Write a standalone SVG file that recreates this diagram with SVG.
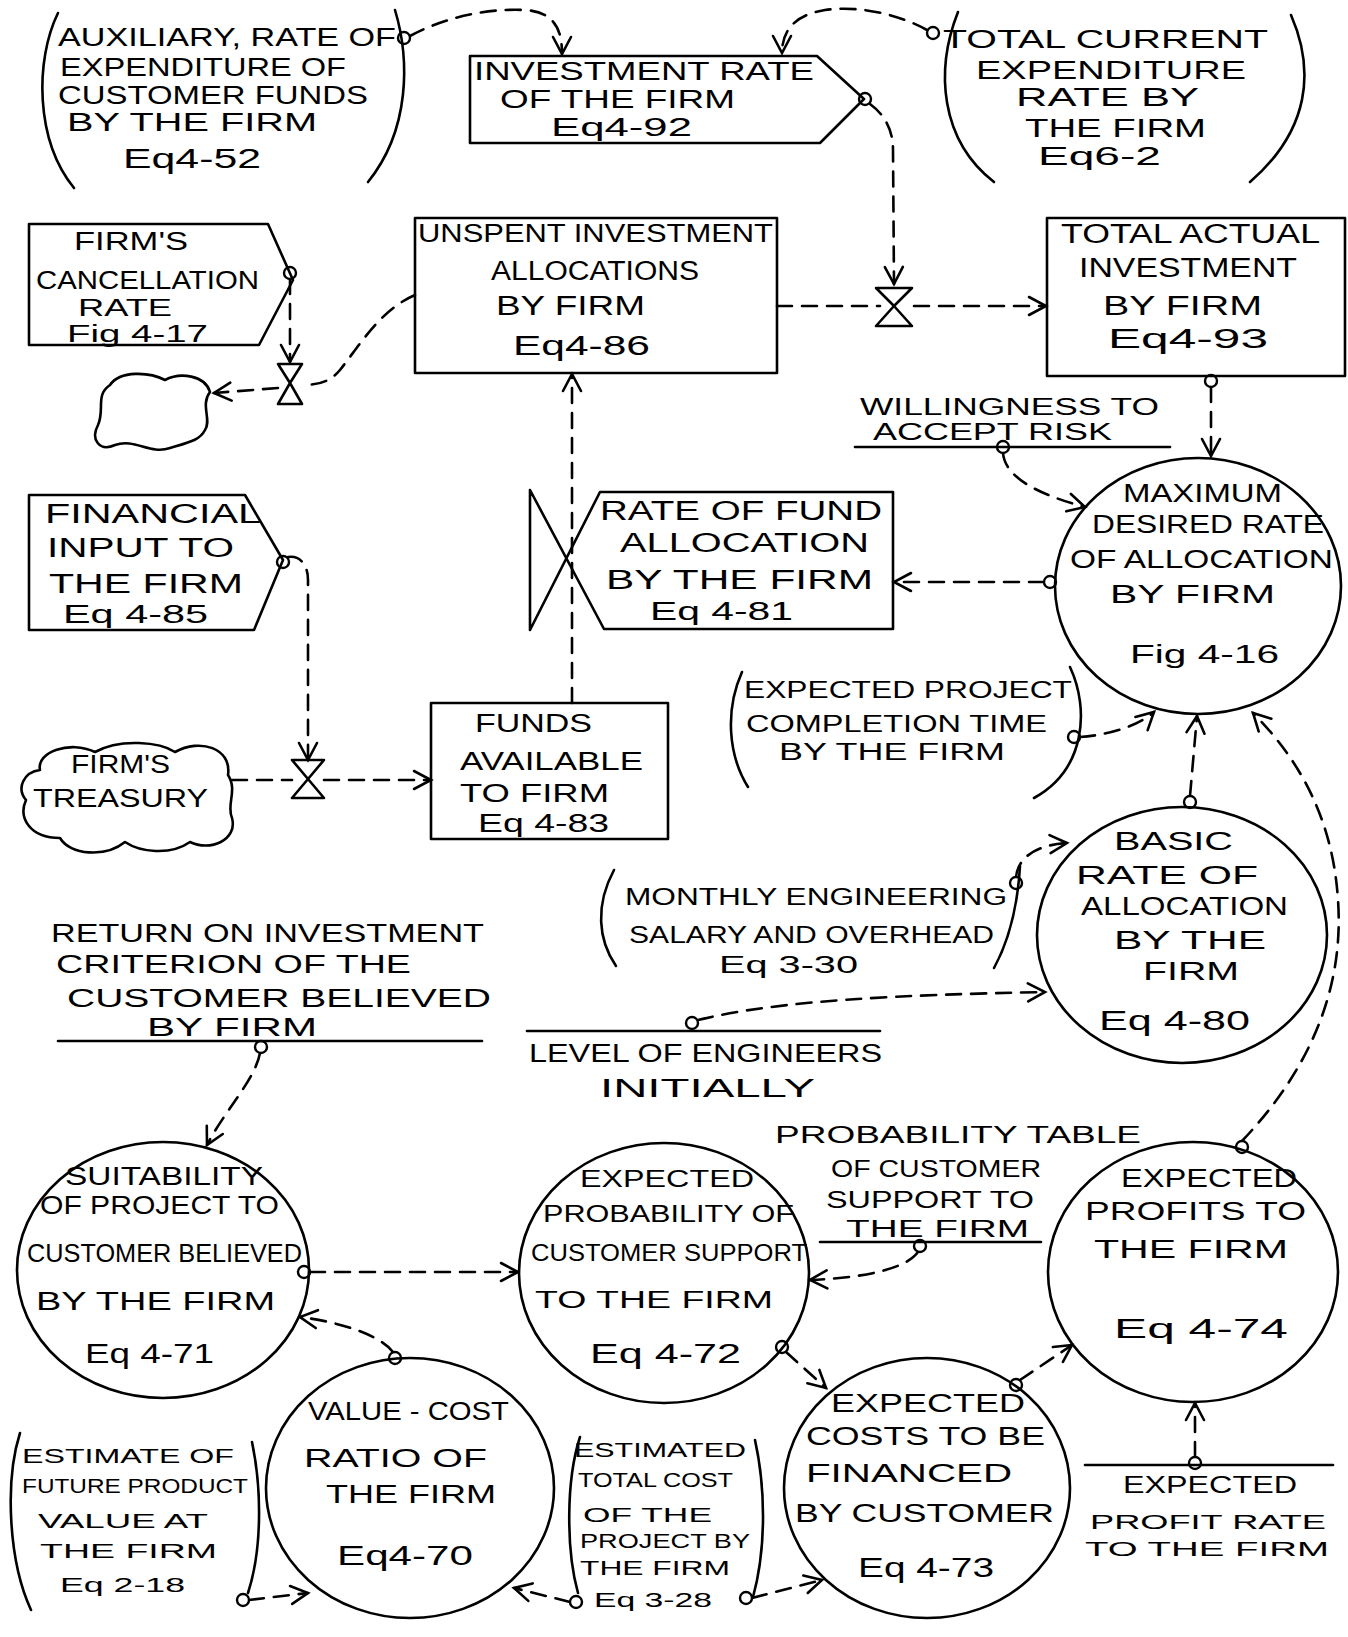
<svg xmlns="http://www.w3.org/2000/svg" width="1348" height="1637" viewBox="0 0 1348 1637">
<style>
text{font-family:"Liberation Sans",Arial,sans-serif;fill:#000}
.t{font-size:27px}.m{font-size:25px}.s{font-size:23px}.xs{font-size:21px}
.sh{fill:none;stroke:#000;stroke-width:2.6;stroke-linejoin:round;stroke-linecap:round}
.d{fill:none;stroke:#000;stroke-width:2.6;stroke-dasharray:15 10;stroke-linecap:round}
.o{fill:#fff;stroke:#000;stroke-width:2.4}
</style>
<defs>
<marker id="ah" viewBox="-20 -11 23 22" refX="0" refY="0" markerWidth="23" markerHeight="22" markerUnits="userSpaceOnUse" orient="auto">
<path d="M-17,-9 L0,0 L-17,9" fill="none" stroke="#000" stroke-width="2.6" stroke-linecap="round"/>
</marker>
</defs>
<rect width="1348" height="1637" fill="#fff"/>

<g id="connectors">
<path class="d" d="M410,36 C440,20 480,8 525,10 C555,12 562,30 562,54" marker-end="url(#ah)"/>
<path class="d" d="M927,30 C900,15 860,5 825,10 C795,15 782,30 782,53" marker-end="url(#ah)"/>
<path class="d" d="M870,104 C885,115 893,130 893,150 L894,284" marker-end="url(#ah)"/>
<path class="d" d="M777,306 L880,306"/>
<path class="d" d="M914,306 L1046,306" marker-end="url(#ah)"/>
<path class="d" d="M290,279 L290,362" marker-end="url(#ah)"/>
<path class="d" d="M415,295 C380,310 360,345 340,370 C330,382 318,385 302,385"/>
<path class="d" d="M278,388 L214,393" marker-end="url(#ah)"/>
<path class="d" d="M1211,387 L1211,456" marker-end="url(#ah)"/>
<path class="d" d="M1003,453 C1005,478 1040,495 1085,507" marker-end="url(#ah)"/>
<path class="d" d="M1044,582 L894,582" marker-end="url(#ah)"/>
<path class="d" d="M572,703 L572,374" marker-end="url(#ah)"/>
<path class="d" d="M288,557 C300,555 308,565 308,580 L308,760" marker-end="url(#ah)"/>
<path class="d" d="M232,780 L292,780"/>
<path class="d" d="M324,780 L431,780" marker-end="url(#ah)"/>
<path class="d" d="M1080,737 C1110,735 1140,725 1154,712" marker-end="url(#ah)"/>
<path class="d" d="M1190,796 L1197,716" marker-end="url(#ah)"/>
<path class="d" d="M1016,877 C1018,858 1035,845 1067,843" marker-end="url(#ah)"/>
<path class="d" d="M698,1020 C780,1000 900,995 1045,992" marker-end="url(#ah)"/>
<path class="d" d="M1242,1141 C1300,1080 1345,1000 1338,900 C1333,820 1300,760 1253,713" marker-end="url(#ah)"/>
<path class="d" d="M260,1053 C255,1080 225,1110 207,1145" marker-end="url(#ah)"/>
<path class="d" d="M310,1272 L518,1272" marker-end="url(#ah)"/>
<path class="d" d="M393,1352 C380,1335 340,1322 300,1317" marker-end="url(#ah)"/>
<path class="d" d="M918,1252 C905,1270 860,1278 810,1280" marker-end="url(#ah)"/>
<path class="d" d="M786,1352 L826,1388" marker-end="url(#ah)"/>
<path class="d" d="M1020,1380 L1072,1345" marker-end="url(#ah)"/>
<path class="d" d="M1195,1457 L1195,1403" marker-end="url(#ah)"/>
<path class="d" d="M249,1600 L308,1593" marker-end="url(#ah)"/>
<path class="d" d="M570,1602 L514,1588" marker-end="url(#ah)"/>
<path class="d" d="M752,1598 L822,1580" marker-end="url(#ah)"/>
<circle class="o" cx="404" cy="38" r="6"/>
<circle class="o" cx="933" cy="33" r="6"/>
<circle class="o" cx="865" cy="99" r="6"/>
<circle class="o" cx="290" cy="273" r="6"/>
<circle class="o" cx="1211" cy="381" r="6"/>
<circle class="o" cx="1003" cy="447" r="6"/>
<circle class="o" cx="1050" cy="582" r="6"/>
<circle class="o" cx="283" cy="562" r="6"/>
<circle class="o" cx="1074" cy="737" r="6"/>
<circle class="o" cx="1190" cy="802" r="6"/>
<circle class="o" cx="1016" cy="883" r="6"/>
<circle class="o" cx="692" cy="1023" r="6"/>
<circle class="o" cx="1242" cy="1147" r="6"/>
<circle class="o" cx="261" cy="1047" r="6"/>
<circle class="o" cx="304" cy="1272" r="6"/>
<circle class="o" cx="395" cy="1358" r="6"/>
<circle class="o" cx="920" cy="1246" r="6"/>
<circle class="o" cx="782" cy="1347" r="6"/>
<circle class="o" cx="1016" cy="1385" r="6"/>
<circle class="o" cx="1195" cy="1463" r="6"/>
<circle class="o" cx="243" cy="1600" r="6"/>
<circle class="o" cx="576" cy="1602" r="6"/>
<circle class="o" cx="746" cy="1598" r="6"/>
</g>

<g id="valves">
<path class="sh" d="M876,288 L912,288 L894,306 Z M894,306 L876,326 L912,326 Z"/>
<path class="sh" d="M278,364 L302,364 L290,383 Z M290,383 L278,404 L302,404 Z"/>
<path class="sh" d="M292,760 L324,760 L308,779 Z M308,779 L292,798 L324,798 Z"/>
</g>

<g id="sink-cloud">
<path class="sh" d="M210,392 C205,375 180,372 165,380 C150,372 120,370 110,385 C95,395 105,410 98,425 C90,440 100,452 115,445 C135,438 150,455 170,448 C190,442 200,440 205,430 C212,420 200,405 210,392 Z"/>
</g>

<g id="aux-rate-expenditure">
<path class="sh" d="M58,13 C35,60 35,140 74,188"/>
<path class="sh" d="M395,10 C410,60 410,130 368,182"/>
<text class="m" x="58" y="46" textLength="338" lengthAdjust="spacingAndGlyphs">AUXILIARY, RATE OF</text>
<text class="m" x="60" y="76" textLength="286" lengthAdjust="spacingAndGlyphs">EXPENDITURE OF</text>
<text class="m" x="58" y="104" textLength="310" lengthAdjust="spacingAndGlyphs">CUSTOMER FUNDS</text>
<text class="m" x="67" y="131" textLength="250" lengthAdjust="spacingAndGlyphs">BY THE FIRM</text>
<text class="t" x="123" y="168" textLength="138" lengthAdjust="spacingAndGlyphs">Eq4-52</text>
</g>

<g id="investment-rate">
<path class="sh" d="M470,56 L817,56 L864,99 L820,143 L470,143 Z"/>
<text class="m" x="474" y="80" textLength="340" lengthAdjust="spacingAndGlyphs">INVESTMENT  RATE</text>
<text class="m" x="500" y="108" textLength="235" lengthAdjust="spacingAndGlyphs">OF THE FIRM</text>
<text class="m" x="551" y="136" textLength="141" lengthAdjust="spacingAndGlyphs">Eq4-92</text>
</g>

<g id="total-current-expenditure">
<path class="sh" d="M958,12 C935,70 940,140 994,182"/>
<path class="sh" d="M1291,15 C1315,70 1310,130 1250,182"/>
<text class="m" x="943" y="48" textLength="325" lengthAdjust="spacingAndGlyphs">TOTAL CURRENT</text>
<text class="m" x="976" y="79" textLength="270" lengthAdjust="spacingAndGlyphs">EXPENDITURE</text>
<text class="m" x="1016" y="106" textLength="183" lengthAdjust="spacingAndGlyphs">RATE BY</text>
<text class="m" x="1025" y="137" textLength="181" lengthAdjust="spacingAndGlyphs">THE FIRM</text>
<text class="m" x="1038" y="165" textLength="123" lengthAdjust="spacingAndGlyphs">Eq6-2</text>
</g>

<g id="cancellation-rate">
<path class="sh" d="M29,224 L268,224 L293,280 L259,345 L29,345 Z"/>
<text class="m" x="74" y="250" textLength="114" lengthAdjust="spacingAndGlyphs">FIRM'S</text>
<text class="m" x="36" y="289" textLength="223" lengthAdjust="spacingAndGlyphs">CANCELLATION</text>
<text class="s" x="78" y="316" textLength="94" lengthAdjust="spacingAndGlyphs">RATE</text>
<text class="s" x="67" y="342" textLength="141" lengthAdjust="spacingAndGlyphs">Fig 4-17</text>
</g>

<g id="unspent-investment">
<rect class="sh" x="415" y="218" width="362" height="155"/>
<text class="m" x="418" y="242" textLength="355" lengthAdjust="spacingAndGlyphs">UNSPENT INVESTMENT</text>
<text class="t" x="491" y="280" textLength="208" lengthAdjust="spacingAndGlyphs">ALLOCATIONS</text>
<text class="t" x="496" y="315" textLength="149" lengthAdjust="spacingAndGlyphs">BY FIRM</text>
<text class="t" x="513" y="355" textLength="137" lengthAdjust="spacingAndGlyphs">Eq4-86</text>
</g>

<g id="total-actual-investment">
<rect class="sh" x="1047" y="218" width="298" height="158"/>
<text class="t" x="1061" y="243" textLength="259" lengthAdjust="spacingAndGlyphs">TOTAL ACTUAL</text>
<text class="t" x="1079" y="277" textLength="218" lengthAdjust="spacingAndGlyphs">INVESTMENT</text>
<text class="t" x="1103" y="315" textLength="159" lengthAdjust="spacingAndGlyphs">BY FIRM</text>
<text class="t" x="1108" y="348" textLength="160" lengthAdjust="spacingAndGlyphs">Eq4-93</text>
</g>

<g id="willingness-risk">
<path class="sh" d="M855,447 L1170,447"/>
<text class="s" x="860" y="415" textLength="299" lengthAdjust="spacingAndGlyphs">WILLINGNESS TO</text>
<text class="s" x="873" y="440" textLength="239" lengthAdjust="spacingAndGlyphs">ACCEPT  RISK</text>
</g>

<g id="maximum-desired-rate">
<ellipse class="sh" cx="1198" cy="586" rx="143" ry="128"/>
<text class="m" x="1123" y="502" textLength="159" lengthAdjust="spacingAndGlyphs">MAXIMUM</text>
<text class="m" x="1092" y="533" textLength="232" lengthAdjust="spacingAndGlyphs">DESIRED RATE</text>
<text class="m" x="1070" y="568" textLength="263" lengthAdjust="spacingAndGlyphs">OF ALLOCATION</text>
<text class="m" x="1110" y="603" textLength="165" lengthAdjust="spacingAndGlyphs">BY FIRM</text>
<text class="m" x="1130" y="663" textLength="149" lengthAdjust="spacingAndGlyphs">Fig 4-16</text>
</g>

<g id="rate-of-fund-allocation">
<path class="sh" d="M530,490 L530,630 M530,490 L604,629 M530,630 L600,492 M600,492 L893,492 L893,629 L604,629"/>
<text class="t" x="600" y="520" textLength="282" lengthAdjust="spacingAndGlyphs">RATE OF FUND</text>
<text class="t" x="620" y="552" textLength="249" lengthAdjust="spacingAndGlyphs">ALLOCATION</text>
<text class="t" x="606" y="589" textLength="267" lengthAdjust="spacingAndGlyphs">BY THE  FIRM</text>
<text class="m" x="650" y="620" textLength="143" lengthAdjust="spacingAndGlyphs">Eq 4-81</text>
</g>

<g id="financial-input">
<path class="sh" d="M29,495 L245,495 L283,560 L254,630 L29,630 Z"/>
<text class="t" x="45" y="523" textLength="216" lengthAdjust="spacingAndGlyphs">FINANCIAL</text>
<text class="t" x="47" y="557" textLength="187" lengthAdjust="spacingAndGlyphs">INPUT TO</text>
<text class="t" x="49" y="593" textLength="194" lengthAdjust="spacingAndGlyphs">THE FIRM</text>
<text class="m" x="63" y="623" textLength="145" lengthAdjust="spacingAndGlyphs">Eq 4-85</text>
</g>

<g id="firms-treasury">
<path class="sh" d="M40,770 C36,752 70,740 95,752 C120,738 160,742 175,752 C200,738 232,748 228,775 C238,790 226,805 232,818 C238,840 210,852 190,842 C170,856 140,852 125,842 C105,858 70,855 60,838 C30,838 18,818 26,800 C16,788 24,772 40,770 Z"/>
<text class="m" x="71" y="773" textLength="99" lengthAdjust="spacingAndGlyphs">FIRM'S</text>
<text class="m" x="33" y="807" textLength="175" lengthAdjust="spacingAndGlyphs">TREASURY</text>
</g>

<g id="funds-available">
<rect class="sh" x="431" y="703" width="237" height="136"/>
<text class="m" x="475" y="732" textLength="117" lengthAdjust="spacingAndGlyphs">FUNDS</text>
<text class="m" x="460" y="770" textLength="183" lengthAdjust="spacingAndGlyphs">AVAILABLE</text>
<text class="m" x="460" y="802" textLength="149" lengthAdjust="spacingAndGlyphs">TO FIRM</text>
<text class="m" x="478" y="832" textLength="131" lengthAdjust="spacingAndGlyphs">Eq 4-83</text>
</g>

<g id="expected-project-completion">
<path class="sh" d="M742,672 C725,710 728,755 748,787"/>
<path class="sh" d="M1070,667 C1090,710 1085,770 1034,798"/>
<text class="s" x="744" y="698" textLength="328" lengthAdjust="spacingAndGlyphs">EXPECTED PROJECT</text>
<text class="s" x="746" y="732" textLength="301" lengthAdjust="spacingAndGlyphs">COMPLETION TIME</text>
<text class="s" x="779" y="760" textLength="226" lengthAdjust="spacingAndGlyphs">BY THE FIRM</text>
</g>

<g id="basic-rate">
<ellipse class="sh" cx="1182" cy="935" rx="145" ry="128"/>
<text class="m" x="1114" y="850" textLength="119" lengthAdjust="spacingAndGlyphs">BASIC</text>
<text class="m" x="1076" y="884" textLength="182" lengthAdjust="spacingAndGlyphs">RATE  OF</text>
<text class="m" x="1081" y="915" textLength="207" lengthAdjust="spacingAndGlyphs">ALLOCATION</text>
<text class="m" x="1114" y="949" textLength="152" lengthAdjust="spacingAndGlyphs">BY THE</text>
<text class="m" x="1143" y="980" textLength="96" lengthAdjust="spacingAndGlyphs">FIRM</text>
<text class="t" x="1099" y="1030" textLength="151" lengthAdjust="spacingAndGlyphs">Eq 4-80</text>
</g>

<g id="monthly-engineering-salary">
<path class="sh" d="M614,870 C595,905 598,940 616,966"/>
<path class="sh" d="M1020,866 C1018,900 1012,935 994,968"/>
<text class="s" x="625" y="905" textLength="382" lengthAdjust="spacingAndGlyphs">MONTHLY ENGINEERING</text>
<text class="s" x="629" y="943" textLength="365" lengthAdjust="spacingAndGlyphs">SALARY AND OVERHEAD</text>
<text class="s" x="719" y="973" textLength="139" lengthAdjust="spacingAndGlyphs">Eq 3-30</text>
</g>

<g id="level-of-engineers">
<path class="sh" d="M527,1031 L880,1031"/>
<text class="m" x="529" y="1062" textLength="353" lengthAdjust="spacingAndGlyphs">LEVEL OF ENGINEERS</text>
<text class="m" x="600" y="1097" textLength="215" lengthAdjust="spacingAndGlyphs">INITIALLY</text>
</g>

<g id="return-on-investment">
<path class="sh" d="M58,1041 L482,1041"/>
<text class="m" x="51" y="942" textLength="433" lengthAdjust="spacingAndGlyphs">RETURN ON INVESTMENT</text>
<text class="m" x="56" y="973" textLength="355" lengthAdjust="spacingAndGlyphs">CRITERION OF THE</text>
<text class="m" x="67" y="1007" textLength="424" lengthAdjust="spacingAndGlyphs">CUSTOMER  BELIEVED</text>
<text class="m" x="147" y="1036" textLength="170" lengthAdjust="spacingAndGlyphs">BY FIRM</text>
</g>

<g id="suitability">
<ellipse class="sh" cx="163" cy="1270" rx="146" ry="128"/>
<text class="m" x="65" y="1185" textLength="198" lengthAdjust="spacingAndGlyphs">SUITABILITY</text>
<text class="m" x="40" y="1214" textLength="239" lengthAdjust="spacingAndGlyphs">OF PROJECT TO</text>
<text class="m" x="27" y="1262" textLength="275" lengthAdjust="spacingAndGlyphs">CUSTOMER BELIEVED</text>
<text class="m" x="36" y="1310" textLength="239" lengthAdjust="spacingAndGlyphs">BY THE FIRM</text>
<text class="t" x="85" y="1363" textLength="129" lengthAdjust="spacingAndGlyphs">Eq 4-71</text>
</g>

<g id="expected-probability-support">
<ellipse class="sh" cx="664" cy="1273" rx="145" ry="130"/>
<text class="s" x="580" y="1187" textLength="174" lengthAdjust="spacingAndGlyphs">EXPECTED</text>
<text class="s" x="543" y="1222" textLength="251" lengthAdjust="spacingAndGlyphs">PROBABILITY OF</text>
<text class="s" x="531" y="1261" textLength="276" lengthAdjust="spacingAndGlyphs">CUSTOMER SUPPORT</text>
<text class="s" x="535" y="1308" textLength="238" lengthAdjust="spacingAndGlyphs">TO THE  FIRM</text>
<text class="t" x="590" y="1363" textLength="151" lengthAdjust="spacingAndGlyphs">Eq 4-72</text>
</g>

<g id="probability-table">
<path class="sh" d="M820,1242 L1041,1242"/>
<text class="s" x="775" y="1143" textLength="366" lengthAdjust="spacingAndGlyphs">PROBABILITY TABLE</text>
<text class="s" x="831" y="1177" textLength="210" lengthAdjust="spacingAndGlyphs">OF CUSTOMER</text>
<text class="s" x="826" y="1208" textLength="208" lengthAdjust="spacingAndGlyphs">SUPPORT  TO</text>
<text class="s" x="846" y="1237" textLength="183" lengthAdjust="spacingAndGlyphs">THE  FIRM</text>
</g>

<g id="expected-profits">
<ellipse class="sh" cx="1193" cy="1272" rx="145" ry="130"/>
<text class="m" x="1121" y="1187" textLength="176" lengthAdjust="spacingAndGlyphs">EXPECTED</text>
<text class="m" x="1085" y="1220" textLength="221" lengthAdjust="spacingAndGlyphs">PROFITS  TO</text>
<text class="m" x="1094" y="1258" textLength="194" lengthAdjust="spacingAndGlyphs">THE  FIRM</text>
<text class="t" x="1114" y="1338" textLength="174" lengthAdjust="spacingAndGlyphs">Eq 4-74</text>
</g>

<g id="expected-costs-financed">
<ellipse class="sh" cx="927" cy="1488" rx="143" ry="130"/>
<text class="m" x="831" y="1412" textLength="194" lengthAdjust="spacingAndGlyphs">EXPECTED</text>
<text class="m" x="806" y="1445" textLength="239" lengthAdjust="spacingAndGlyphs">COSTS TO BE</text>
<text class="m" x="806" y="1482" textLength="206" lengthAdjust="spacingAndGlyphs">FINANCED</text>
<text class="m" x="795" y="1522" textLength="259" lengthAdjust="spacingAndGlyphs">BY CUSTOMER</text>
<text class="t" x="858" y="1577" textLength="136" lengthAdjust="spacingAndGlyphs">Eq 4-73</text>
</g>

<g id="expected-profit-rate">
<path class="sh" d="M1085,1465 L1333,1465"/>
<text class="s" x="1123" y="1493" textLength="174" lengthAdjust="spacingAndGlyphs">EXPECTED</text>
<text class="xs" x="1090" y="1529" textLength="236" lengthAdjust="spacingAndGlyphs">PROFIT RATE</text>
<text class="xs" x="1085" y="1556" textLength="244" lengthAdjust="spacingAndGlyphs">TO THE FIRM</text>
</g>

<g id="value-cost-ratio">
<ellipse class="sh" cx="410" cy="1488" rx="144" ry="130"/>
<text class="m" x="308" y="1420" textLength="201" lengthAdjust="spacingAndGlyphs">VALUE - COST</text>
<text class="m" x="304" y="1467" textLength="183" lengthAdjust="spacingAndGlyphs">RATIO  OF</text>
<text class="m" x="326" y="1503" textLength="170" lengthAdjust="spacingAndGlyphs">THE FIRM</text>
<text class="t" x="337" y="1565" textLength="136" lengthAdjust="spacingAndGlyphs">Eq4-70</text>
</g>

<g id="estimate-future-product-value">
<path class="sh" d="M20,1433 C5,1480 8,1560 31,1610"/>
<path class="sh" d="M252,1442 C262,1490 262,1550 248,1593"/>
<text class="xs" x="22" y="1463" textLength="212" lengthAdjust="spacingAndGlyphs">ESTIMATE OF</text>
<text class="xs" x="22" y="1493" textLength="226" lengthAdjust="spacingAndGlyphs">FUTURE PRODUCT</text>
<text class="xs" x="38" y="1528" textLength="170" lengthAdjust="spacingAndGlyphs">VALUE  AT</text>
<text class="xs" x="40" y="1558" textLength="177" lengthAdjust="spacingAndGlyphs">THE  FIRM</text>
<text class="xs" x="60" y="1592" textLength="125" lengthAdjust="spacingAndGlyphs">Eq 2-18</text>
</g>

<g id="estimated-total-cost">
<path class="sh" d="M580,1437 C566,1480 566,1550 578,1593"/>
<path class="sh" d="M755,1440 C766,1490 766,1550 753,1597"/>
<text class="xs" x="574" y="1457" textLength="172" lengthAdjust="spacingAndGlyphs">ESTIMATED</text>
<text class="xs" x="578" y="1487" textLength="155" lengthAdjust="spacingAndGlyphs">TOTAL COST</text>
<text class="xs" x="583" y="1522" textLength="129" lengthAdjust="spacingAndGlyphs">OF THE</text>
<text class="xs" x="580" y="1548" textLength="170" lengthAdjust="spacingAndGlyphs">PROJECT BY</text>
<text class="xs" x="580" y="1575" textLength="150" lengthAdjust="spacingAndGlyphs">THE FIRM</text>
<text class="xs" x="594" y="1607" textLength="118" lengthAdjust="spacingAndGlyphs">Eq 3-28</text>
</g>
</svg>
